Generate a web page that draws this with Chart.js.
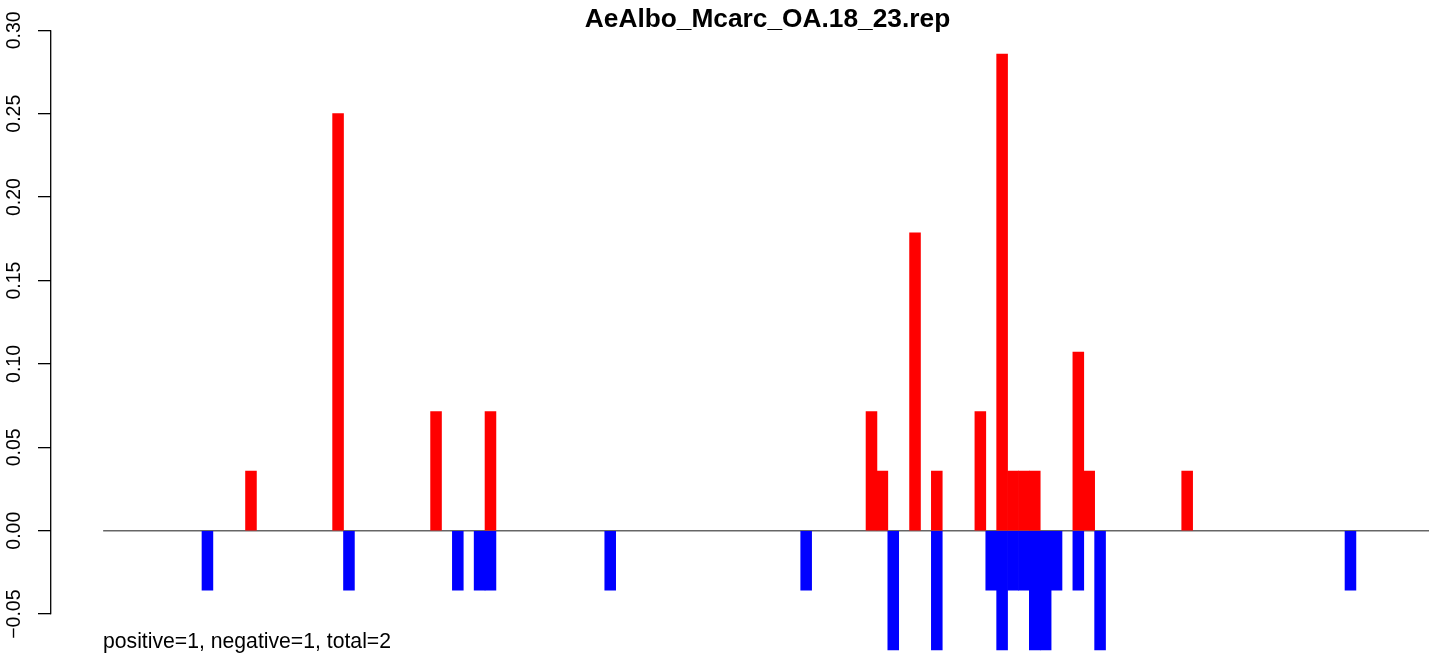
<!DOCTYPE html>
<html>
<head>
<meta charset="utf-8">
<script src="https://cdn.jsdelivr.net/npm/chart.js@4.4.1/dist/chart.umd.min.js"></script>
<style>
  html, body { margin: 0; padding: 0; background: #fff; }
  #wrap { position: relative; width: 1429px; height: 655px; }
</style>
</head>
<body>
<div id="wrap"><canvas id="rep-chart" width="1429" height="655"></canvas></div>
<script>
// AeAlbo_Mcarc_OA.18_23.rep - positive / negative scores per position

const chartTitle = "AeAlbo_Mcarc_OA.18_23.rep";
const footerText = "positive=1, negative=1, total=2";

// positive scores (red)
const posBins = [13, 21, 30, 35, 70, 71, 74, 76, 80, 82, 83, 84, 85, 89, 90, 99];
const posValues = [0.0357, 0.25, 0.0714, 0.0714, 0.0714, 0.0357, 0.1786, 0.0357,
  0.0714, 0.2857, 0.0357, 0.0357, 0.0357, 0.1071, 0.0357, 0.0357];

// negative scores (blue)
const negBins = [9, 22, 32, 34, 35, 46, 64, 72, 76, 81, 82, 83, 84, 85, 86, 87, 89, 91, 114];
const negValues = [-0.0357, -0.0357, -0.0357, -0.0357, -0.0357, -0.0357, -0.0357, -0.0714,
  -0.0714, -0.0357, -0.0714, -0.0357, -0.0357, -0.0714, -0.0714, -0.0357, -0.0357, -0.0714, -0.0357];

// y axis tick labels
const yTicks = [-0.05, 0.0, 0.05, 0.1, 0.15, 0.2, 0.25, 0.3];

const FONT = "'Liberation Sans', Arial, Helvetica, sans-serif";

function toPoints(bins, values) {
  return bins.map((b, i) => ({ x: b, y: values[i] }));
}

// draws the R-style y axis line, rotated tick labels, zero line, title and footer
const decorations = {
  id: "decorations",
  beforeDatasetsDraw(chart) {
    const { ctx, chartArea, scales } = chart;
    const y0 = scales.y.getPixelForValue(0);
    ctx.save();
    ctx.strokeStyle = "#666666";
    ctx.lineWidth = 1.3;
    ctx.beginPath();
    ctx.moveTo(scales.x.getPixelForValue(-0.58), y0);
    ctx.lineTo(chartArea.right, y0);
    ctx.stroke();
    ctx.restore();
  },
  afterDraw(chart) {
    const { ctx, chartArea, scales } = chart;
    const yScale = scales.y;
    ctx.save();

    // axis line from first to last tick
    ctx.strokeStyle = "#000";
    ctx.lineWidth = 1.3;
    ctx.beginPath();
    ctx.moveTo(chartArea.left - 0.3, yScale.getPixelForValue(yTicks[yTicks.length - 1]));
    ctx.lineTo(chartArea.left - 0.3, yScale.getPixelForValue(yTicks[0]));
    ctx.stroke();

    // tick labels, reading bottom to top
    ctx.fillStyle = "#000";
    ctx.font = "19.5px " + FONT;
    ctx.textAlign = "center";
    ctx.textBaseline = "alphabetic";
    yTicks.forEach((v) => {
      const py = yScale.getPixelForValue(v);
      ctx.save();
      ctx.translate(19.5, py);
      ctx.rotate(-Math.PI / 2);
      ctx.fillText(v.toFixed(2).replace("-", "\u2212"), 0, 0);
      ctx.restore();
    });

    // title
    ctx.font = "bold 26.3px " + FONT;
    ctx.textAlign = "center";
    ctx.fillText(chartTitle, 767.5, 27);

    // footer
    ctx.font = "21.2px " + FONT;
    ctx.textAlign = "left";
    ctx.fillText(footerText, 103, 648);
    ctx.restore();
  },
};

const ctx = document.getElementById("rep-chart").getContext("2d");

const repChart = new Chart(ctx, {
  type: "bar",
  data: {
    datasets: [
      {
        label: "positive",
        data: toPoints(posBins, posValues),
        backgroundColor: "#ff0000",
        borderWidth: 0,
      },
      {
        label: "negative",
        data: toPoints(negBins, negValues),
        backgroundColor: "#0000ff",
        borderWidth: 0,
      },
    ],
  },
  options: {
    responsive: false,
    animation: false,
    events: [],
    barPercentage: 1,
    categoryPercentage: 1,
    layout: {
      padding: { left: 38, right: 0, top: 30.3, bottom: 0 },
    },
    plugins: {
      legend: { display: false },
      title: { display: false },
      tooltip: { enabled: false },
    },
    scales: {
      x: {
        type: "linear",
        stacked: true,
        display: false,
        offset: false,
        bounds: "data",
        min: -5.371,
        max: 121.214,
        ticks: { includeBounds: false, stepSize: 20 },
      },
      y: {
        stacked: true,
        min: -0.0745,
        max: 0.3,
        afterBuildTicks: (scale) => {
          scale.ticks = yTicks.map((v) => ({ value: v }));
        },
        border: { display: false },
        grid: {
          drawOnChartArea: false,
          drawTicks: true,
          tickLength: 13,
          color: "#000",
          lineWidth: 1.3,
        },
        ticks: { display: false },
      },
    },
  },
  plugins: [decorations],
});
</script>
</body>
</html>
